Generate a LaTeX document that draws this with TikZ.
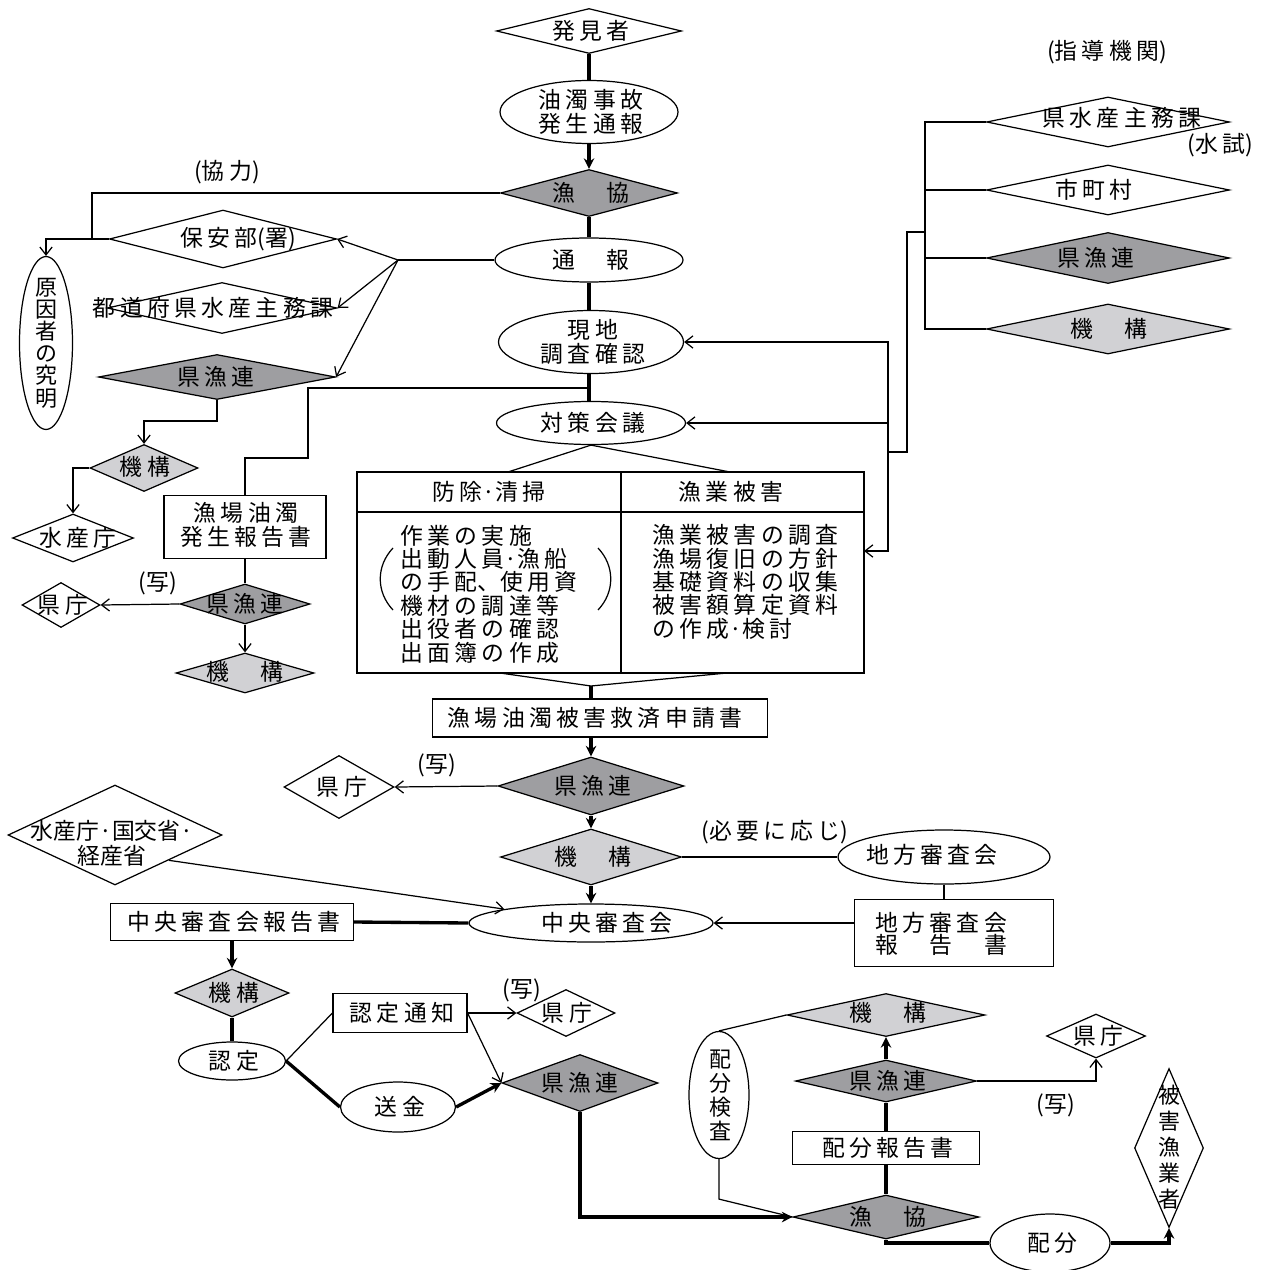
\documentclass[tikz,border=0pt]{standalone}
\usepackage{fontspec}
\newfontfamily\jpfont{Noto Sans CJK JP}[LetterSpace=19]
\newfontfamily\jptight{Noto Sans CJK JP}
\usetikzlibrary{shapes.geometric,arrows.meta}
\definecolor{darkfill}{rgb}{0.62,0.62,0.63}
\definecolor{lightfill}{rgb}{0.82,0.82,0.83}

\begin{document}
\begin{tikzpicture}[x=0.02cm,y=-0.02cm,
  font=\jpfont\fontsize{13}{13.3}\selectfont,
  dia/.style={diamond,draw,line width=0.7pt,inner sep=0pt},
  ell/.style={ellipse,draw,line width=0.7pt,inner sep=0pt},
  box/.style={rectangle,draw,line width=0.7pt,inner sep=0pt},
  txt/.style={inner sep=0pt,align=center},
  vtxt/.style={inner sep=0pt,align=center,font=\jptight\fontsize{12.5}{13.6}\selectfont},
  thinline/.style={line width=0.7pt},
  heavy/.style={line width=1.9pt},
  arr/.style={-{Straight Barb[length=4.5pt,width=7pt]}},
  harr/.style={-{Stealth[length=6pt,width=6pt]}}]
\useasboundingbox (0,0) rectangle (1269,1270);

% Main column (top)
\node[dia, minimum width=3.70cm, minimum height=0.90cm] (hakken) at (589,31) {};
\node[txt] (hakkent) at (591,31) {発見者};
\node[ell, minimum width=3.56cm, minimum height=1.26cm] (yudaku) at (589,112) {};
\node[txt] (yudakut) at (591,112) {油濁事故\\発生通報};
\node[dia, fill=darkfill, minimum width=3.54cm, minimum height=0.94cm] (gyokyo1) at (589,193) {};
\node[txt] (gyokyo1t) at (591,193) {漁　協};
\node[ell, minimum width=3.76cm, minimum height=0.88cm] (tsuho) at (589,260) {};
\node[txt] (tsuhot) at (591,260) {通　報};
\node[ell, minimum width=3.70cm, minimum height=1.26cm] (genchi) at (591,342) {};
\node[txt] (genchit) at (593,342) {現地\\調査確認};
\node[ell, minimum width=3.78cm, minimum height=0.86cm] (taisaku) at (591,423) {};
\node[txt] (taisakut) at (593,423) {対策会議};

\draw[heavy] (hakken) -- (yudaku);
\draw[heavy,harr] (yudaku) -- (gyokyo1);
\draw[heavy] (gyokyo1) -- (tsuho);
\draw[heavy] (tsuho.south) -- (tsuho.south |- genchi.north);
\draw[heavy] (genchi.south -| tsuho) -- (taisaku.north -| tsuho);

% Left side: cooperation and reports
\node[txt] (kyoryoku) at (227,172) {{\jptight(}協力{\jptight)}};
\node[dia, minimum width=4.54cm, minimum height=1.16cm] (hoan) at (223,239) {};
\node[txt] (hoant) at (238,239) {保安部{\jptight(}署{\jptight)}};
\node[ell, minimum width=1.06cm, minimum height=3.46cm] (genin) at (46,343) {};
\node[vtxt, font=\jptight\fontsize{12.5}{12.6}\selectfont] (genint) at (46,343) {原\\因\\者\\の\\究\\明};
\node[dia, minimum width=4.60cm, minimum height=1.02cm] (todofuken) at (222,308) {};
\node[txt] (todofukent) at (213,308) {都道府県水産主務課};
\node[dia, fill=darkfill, minimum width=4.74cm, minimum height=0.90cm] (kengyoren1) at (217,377) {};
\node[txt] (kengyoren1t) at (216,377) {県漁連};
\node[dia, fill=lightfill, minimum width=2.16cm, minimum height=0.94cm] (kikou1) at (144,468) {};
\node[txt] (kikou1t) at (145,467) {機構};
\node[dia, minimum width=2.42cm, minimum height=0.96cm] (suisancho1) at (73,538) {};
\node[txt] (suisancho1t) at (78,538) {水産庁};
\node[box, minimum width=3.24cm, minimum height=1.26cm] (hokoku1) at (245,527) {};
\node[txt] (hokoku1t) at (246,525) {漁場油濁\\発生報告書};
\node[dia, fill=darkfill, minimum width=2.60cm, minimum height=0.80cm] (kengyoren2) at (245,604) {};
\node[txt] (kengyoren2t) at (245,604) {県漁連};
\node[dia, minimum width=1.56cm, minimum height=0.90cm] (kencho1) at (61,605) {};
\node[txt] (kencho1t) at (63,605) {県庁};
\node[txt] (utsushi1) at (158,583) {{\jptight(}写{\jptight)}};
\node[dia, fill=lightfill, minimum width=2.76cm, minimum height=0.80cm] (kikou2) at (245,673) {};
\node[txt] (kikou2t) at (245,672) {機　構};

\coordinate (kyoryokuj) at (92,239);
\coordinate (tsuhoj) at (398,260);
\coordinate (genchij) at (591,388);
\draw[thinline] (gyokyo1.west) -| (kyoryokuj);
\draw[thinline,arr] (hoan.west) -| (genin.north);
\draw[thinline] (tsuho.west) -- (tsuhoj);
\draw[thinline,arr] (tsuhoj) -- (hoan.east);
\draw[thinline,arr] (tsuhoj) -- (todofuken.east);
\draw[thinline,arr] (tsuhoj) -- (kengyoren1.east);
\draw[thinline,arr] (kengyoren1.south) -- ++(0,21) -| (kikou1.north);
\draw[thinline,arr] (kikou1.west) -| (suisancho1.north);
\draw[thinline] (genchij) -| ++(-283,70) -| (hokoku1.north);
\draw[thinline] (hokoku1) -- (kengyoren2);
\draw[thinline,arr] (kengyoren2.west) -- (kencho1.east);
\draw[thinline,arr] (kengyoren2) -- (kikou2);

% Right side: guidance bodies
\node[txt] (shido) at (1107,52) {{\jptight(}指導機関{\jptight)}};
\node[dia, minimum width=4.86cm, minimum height=1.00cm] (kensuisan) at (1108,122) {};
\node[txt] (kensuisant) at (1122,118) {県水産主務課};
\node[txt] (suishi) at (1220,145) {{\jptight(}水試{\jptight)}};
\node[dia, minimum width=4.86cm, minimum height=1.00cm] (shichoson) at (1108,190) {};
\node[txt] (shichosont) at (1094,190) {市町村};
\node[dia, fill=darkfill, minimum width=4.86cm, minimum height=1.02cm] (kengyoren3) at (1108,258) {};
\node[txt] (kengyoren3t) at (1096,258) {県漁連};
\node[dia, fill=lightfill, minimum width=4.86cm, minimum height=1.00cm] (kikou3) at (1108,329) {};
\node[txt] (kikou3t) at (1109,329) {機　構};

\coordinate (shidoj) at (926,232);
\coordinate (hanj) at (888,452);
\coordinate (hyoin) at (864,551);
\draw[thinline] (kensuisan.west) -- ++(-61,0) |- (kikou3.west);
\draw[thinline] (shichoson.west) -- ++(-61,0);
\draw[thinline] (kengyoren3.west) -- ++(-61,0);
\draw[thinline] (shidoj) -- ++(-19,0) |- (hanj);
\draw[thinline,arr] (hanj) |- (genchi.east);
\draw[thinline,arr] (hanj) |- (taisaku.east);
\draw[thinline,arr] (hanj) |- (hyoin);

% Countermeasure table
\node[box, minimum width=10.14cm, minimum height=4.02cm] (taisakuhyo) at (610.5,572.5) {};
\draw[thinline] (357,512) -- (864,512);
\draw[thinline] (621,472) -- (621,673);
\node[txt] (bojo) at (489,492) {防除{\jptight·}清掃};
\node[txt] (higaih) at (731,492) {漁業被害};
\node[txt, align=left, anchor=west] (bojot) at (400,594) {作業の実施\\出動人員{\jptight·}漁船\\の手配{\jptight、}使用資\\機材の調達等\\出役者の確認\\出面簿の作成};
\node[txt, align=left, anchor=west] (higaihat) at (652,582) {漁業被害の調査\\漁場復旧の方針\\基礎資料の収集\\被害額算定資料\\の作成{\jptight·}検討};
\draw[thinline] (393,548) .. controls (376,566) and (376,592) .. (393,610);
\draw[thinline] (598,548) .. controls (615,566) and (615,592) .. (598,610);

\coordinate (hyoL) at (508,472);
\coordinate (hyoR) at (730,472);
\coordinate (hyoB) at (591,686);
\draw[thinline] (hyoL) -- (taisaku.south) -- (hyoR);
\draw[thinline] (500,673) -- (hyoB) -- (727,673);

% Relief application
\node[box, minimum width=6.70cm, minimum height=0.76cm] (shinsei) at (600,718) {};
\node[txt] (shinseit) at (595,718) {漁場油濁被害救済申請書};
\node[dia, fill=darkfill, minimum width=3.72cm, minimum height=1.16cm] (kengyoren4) at (591,786) {};
\node[txt] (kengyoren4t) at (593,786) {県漁連};
\node[dia, minimum width=2.20cm, minimum height=1.26cm] (kencho2) at (339,787) {};
\node[txt] (kencho2t) at (342,787) {県庁};
\node[txt] (utsushi2) at (437,765) {{\jptight(}写{\jptight)}};
\node[dia, minimum width=4.28cm, minimum height=2.00cm] (suisancho2) at (115,835) {};
\node[txt, font=\jptight\fontsize{13}{14.2}\selectfont] (suisancho2t) at (112,843) {水産庁·国交省·\\経産省};
\node[dia, fill=lightfill, minimum width=3.62cm, minimum height=1.12cm] (kikou4) at (591,857) {};
\node[txt] (kikou4t) at (593,857) {機　構};
\node[txt] (hitsuyo) at (775,832) {{\jptight(}必要に応じ{\jptight)}};
\node[ell, minimum width=4.24cm, minimum height=1.08cm] (chihou) at (944,857) {};
\node[txt] (chihout) at (932,855) {地方審査会};
\node[box, minimum width=3.98cm, minimum height=1.34cm] (chihouhokoku) at (954,933) {};
\node[txt, align=left, anchor=west, font=\jpfont\fontsize{13}{12.5}\selectfont] (chihouhokokut) at (875,934) {地方審査会\\報　告　書};
\node[ell, minimum width=4.88cm, minimum height=0.76cm] (chuo) at (591,923) {};
\node[txt] (chuot) at (607,923) {中央審査会};
\node[box, minimum width=4.86cm, minimum height=0.74cm] (chuohokoku) at (232,922) {};
\node[txt] (chuohokokut) at (234,922) {中央審査会報告書};

\draw[heavy] (hyoB) -- (hyoB |- shinsei.north);
\draw[heavy,harr] (kengyoren4.north |- shinsei.south) -- (kengyoren4.north);
\draw[thinline,arr] (kengyoren4.west) -- (kencho2.east);
\draw[heavy,harr] (kengyoren4) -- (kikou4);
\draw[heavy,harr] (kikou4) -- (chuo);
\draw[thinline] (kikou4.east) -- (chihou.west);
\draw[thinline] (chihou.south) -- (chihou.south |- chihouhokoku.north);
\draw[thinline,arr] (chihouhokoku.west |- chuo) -- (chuo.east);
\draw[thinline,arr] (suisancho2.south east) -- (chuo.north west);
\draw[heavy] (chuohokoku.east) -- (chuo.west);

% Certification and remittance
\node[dia, fill=lightfill, minimum width=2.28cm, minimum height=0.96cm] (kikou5) at (232,993) {};
\node[txt] (kikou5t) at (234,993) {機構};
\node[ell, minimum width=2.14cm, minimum height=0.76cm] (nintei) at (232,1061) {};
\node[txt] (ninteit) at (234,1061) {認定};
\node[box, minimum width=2.68cm, minimum height=0.78cm] (ninteitsuchi) at (400,1013) {};
\node[txt] (ninteitsuchit) at (402,1013) {認定通知};
\node[dia, minimum width=1.96cm, minimum height=0.94cm] (kencho3) at (566,1013) {};
\node[txt] (kencho3t) at (567,1013) {県庁};
\node[txt] (utsushi3) at (522,990) {{\jptight(}写{\jptight)}};
\node[ell, minimum width=2.30cm, minimum height=1.00cm] (sokin) at (398,1107) {};
\node[txt] (sokint) at (400,1107) {送金};
\node[dia, fill=darkfill, minimum width=3.12cm, minimum height=1.14cm] (kengyoren5) at (580,1083) {};
\node[txt] (kengyoren5t) at (580,1083) {県漁連};

\draw[heavy,harr] (chuohokoku) -- (kikou5);
\draw[heavy] (kikou5) -- (nintei);
\draw[thinline] (nintei.east) -- (ninteitsuchi.west);
\draw[heavy] (nintei.east) -- (sokin.west);
\draw[heavy,harr] (sokin.east) -- (kengyoren5.west);
\draw[thinline,arr] (ninteitsuchi.east) -- (kencho3.west);
\draw[thinline,arr] (ninteitsuchi.east) -- (kengyoren5.west);

% Distribution
\node[dia, fill=lightfill, minimum width=3.96cm, minimum height=0.86cm] (kikou6) at (886,1015) {};
\node[txt] (kikou6t) at (888,1013) {機　構};
\node[ell, minimum width=1.20cm, minimum height=2.54cm] (haibunkensa) at (719,1095) {};
\node[vtxt] (haibunkensat) at (720,1095) {配\\分\\検\\査};
\node[dia, fill=darkfill, minimum width=3.62cm, minimum height=0.84cm] (kengyoren6) at (886,1081) {};
\node[txt] (kengyoren6t) at (888,1081) {県漁連};
\node[dia, minimum width=1.98cm, minimum height=0.88cm] (kencho4) at (1096,1036) {};
\node[txt] (kencho4t) at (1098,1036) {県庁};
\node[txt] (utsushi4) at (1056,1105) {{\jptight(}写{\jptight)}};
\node[box, minimum width=3.74cm, minimum height=0.66cm] (haibunhokoku) at (886,1148) {};
\node[txt] (haibunhokokut) at (888,1148) {配分報告書};
\node[dia, fill=darkfill, minimum width=3.72cm, minimum height=0.88cm] (gyokyo2) at (886,1217) {};
\node[txt] (gyokyo2t) at (888,1217) {漁　協};
\node[ell, minimum width=2.40cm, minimum height=1.16cm] (haibun) at (1050,1243) {};
\node[txt] (haibunt) at (1052,1243) {配分};
\node[dia, minimum width=1.38cm, minimum height=3.18cm] (higai) at (1169,1148) {};
\node[vtxt, font=\jptight\fontsize{12.5}{14.7}\selectfont] (higait) at (1169,1147) {被\\害\\漁\\業\\者};

\draw[heavy,harr] (kengyoren5.south) |- (gyokyo2.west);
\draw[thinline] (haibunkensa.north) -- (kikou6.west);
\draw[thinline] (haibunkensa.south) -- ++(0,40) -- (gyokyo2.west);
\draw[heavy,harr] (kengyoren6) -- (kikou6);
\draw[thinline,arr] (kengyoren6.east) -| (kencho4.south);
\draw[heavy] (kengyoren6) -- (haibunhokoku);
\draw[heavy] (haibunhokoku) -- (gyokyo2);
\draw[heavy] (gyokyo2.south) |- (haibun.west);
\draw[heavy,harr] (haibun.east) -| (higai.south);
\end{tikzpicture}
\end{document}
